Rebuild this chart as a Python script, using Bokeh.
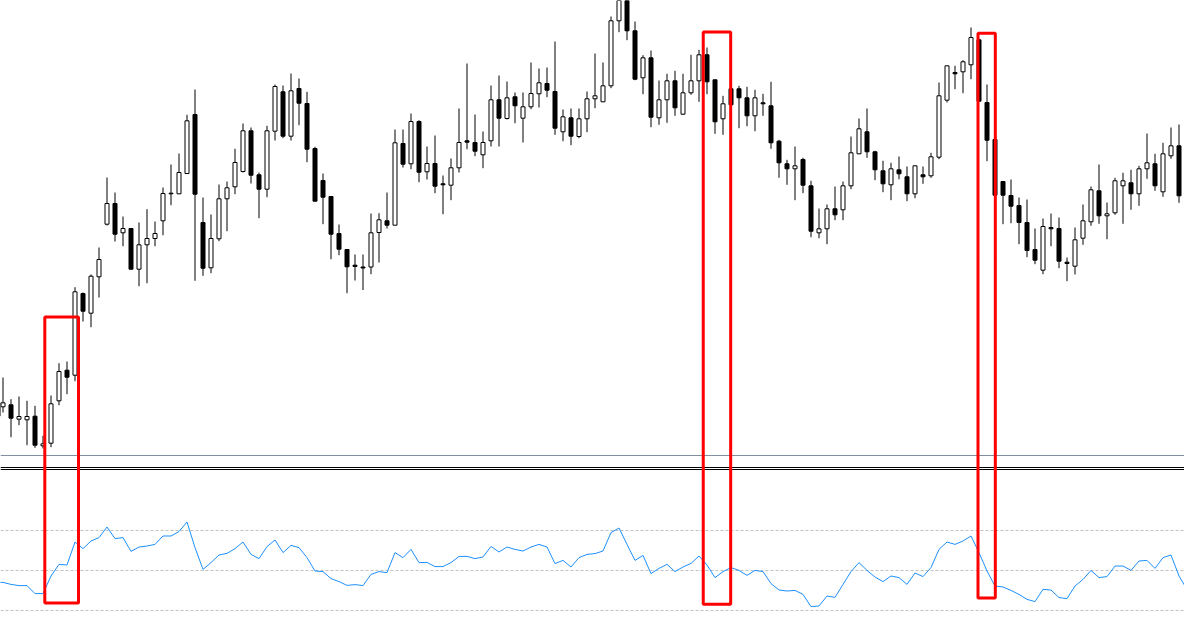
from bokeh.plotting import figure
from bokeh.models import Range1d, ColumnDataSource
from bokeh.embed import file_html
from bokeh.resources import INLINE

# ---- price data (one bar per period) ----
opens = [76.7, 85.7, 87.7, 73.3, 72.7, 76.3, 46.7, 49.3, 91.7, 122.3,
         117.3, 199, 179.3, 215.7, 268.3, 289, 259.7, 264, 223.3, 247.7,
         254, 271.7, 298.7, 298.7, 319, 378, 270, 224.7, 253.7, 293.7,
         305.7, 321, 361.7, 317.7, 303.3, 361.3, 400.7, 356.3, 404, 389,
         344, 312, 296, 259, 243, 227.3, 225.5, 225.5, 260, 271.7,
         267.3, 349, 328.7, 371, 320.7, 329, 308.7, 307.3, 324.7, 351.7,
         350, 337.7, 351.7, 392.7, 374, 395.7, 374.3, 385.7, 398.7, 409,
         401, 360.7, 374.7, 356, 373.7, 393.7, 390.7, 406.7, 471.7, 492,
         461.7, 414.7, 434.7, 374.7, 392.7, 411.7, 378.3, 399.7, 411.7, 437.7,
         412.7, 373.7, 403.7, 403.7, 394.7, 376.7, 389.7, 386.7, 351.3, 328.7,
         323.7, 333, 306.7, 259.7, 263.7, 283.7, 282.7, 306.7, 338.7, 360.7,
         340.7, 321.7, 307.7, 322.7, 315.7, 298.7, 317.7, 316.7, 335.3, 392.3,
         420, 420.7, 427.7, 452.7, 390, 353, 311, 297, 287, 270,
         243, 222.3, 265, 264, 230.3, 226.3, 254.3, 270.7, 301.7, 276.7,
         279.7, 306.7, 309.7, 298.7, 323.7, 328.7, 300.7, 336.7, 346.7, 295.7]
highs = [101, 115, 93.3, 96, 91.7, 86.7, 56.7, 97, 129.3, 131,
         205.3, 200, 218, 245, 315, 300, 276, 264.5, 270, 283.3,
         271, 305, 328, 339, 377.7, 403, 295, 278, 308, 311,
         343.7, 369, 365, 320, 366.7, 408, 407, 419, 414, 400.7,
         345.7, 319, 296, 268, 243, 238, 238, 279, 279.3, 300,
         363, 363, 379, 372.3, 346, 357, 317, 334, 384, 429,
         378, 361, 407, 417, 411, 400, 400, 430, 424, 425,
         451, 383, 384, 384, 401, 439, 430, 476, 502, 502,
         471, 437.3, 442, 412, 418.7, 421.7, 418.7, 437.7, 442.7, 445,
         412.7, 396.7, 403.7, 406.7, 405.7, 402.7, 398.7, 410.7, 352.7, 332.7,
         346, 334.7, 311.7, 284, 288, 306, 311, 356, 374, 384,
         341.7, 331.7, 329.7, 336, 326, 326.7, 326, 339.7, 410, 426.7,
         426.7, 432.3, 465, 454, 408, 353, 311, 313, 295, 293,
         264, 274, 279, 275, 235, 265, 288, 306, 328, 290,
         314.7, 319.7, 322.7, 326.7, 359, 338.7, 349.7, 365, 368, 299.7]
lows = [73.3, 80, 55.3, 67.3, 47.3, 44.7, 44, 45.3, 87.3, 98.3,
        111.3, 171, 165.3, 195, 267, 251, 246.3, 223, 206.3, 209.3,
        246.3, 257.3, 287.3, 298.7, 319, 211.7, 216.7, 219.3, 251.3, 261.3,
        298.3, 320, 309, 274.3, 295.3, 352, 354.3, 352, 367.3, 330.3,
        291.3, 268.3, 233.3, 237.3, 199.3, 212, 202.5, 218.3, 230, 264,
        267.3, 325, 323.3, 310.3, 313, 299.3, 278.3, 292.3, 320, 343.3,
        336.3, 324.3, 346, 346, 373, 369.3, 350, 383.3, 385, 395.3,
        357.7, 351.3, 347.3, 354.3, 360.3, 384.3, 390.7, 404.3, 460.3, 452.3,
        412.3, 398.3, 365.3, 367.7, 369.7, 376.7, 377.7, 397.7, 390.7, 398.3,
        358.7, 357.7, 387.7, 364.3, 366.3, 361.3, 376.7, 343.7, 314.7, 307.7,
        292.3, 299.3, 255.3, 254.3, 248.3, 272.3, 272.3, 303.3, 338.7, 334.7,
        312.3, 300.3, 292.3, 313.3, 291.3, 294.3, 308.7, 314.7, 333.3, 390,
        403.3, 399.3, 413.3, 391, 331.3, 297, 268.3, 269.3, 248.3, 235.3,
        228.3, 218.3, 246.3, 224.3, 211.3, 218, 247.7, 266.7, 268.7, 253.3,
        277.7, 268.7, 282.7, 286.7, 313.7, 301.7, 295.7, 333.7, 289.7, 233.7]
closes = [89.3, 89.7, 74.3, 76, 76, 47.3, 48.7, 88.7, 121, 115.3,
          200.7, 181.3, 216.3, 233, 289, 258.3, 264, 223.3, 247.7, 254,
          259, 299, 299.3, 320, 371.7, 298.3, 224.3, 254, 293.7, 304.7,
          330, 361.7, 317.3, 303.3, 361.7, 406, 356.3, 401.7, 389.3, 343.3,
          291.3, 295.3, 258.3, 243.3, 225.7, 226, 224.5, 259.7, 272.7, 267.3,
          349.7, 328.3, 371, 320.3, 329, 306.3, 307.7, 324.7, 350, 350.3,
          341.3, 350, 392.7, 374.3, 394.7, 386.7, 385.7, 399, 409.7, 402.3,
          364.3, 375.7, 356.3, 373.7, 393.7, 396.7, 406.7, 471.7, 492, 461.7,
          413.3, 434.7, 375.3, 392.7, 411.7, 384.7, 399.7, 411.7, 437.7, 410.7,
          370.7, 388.7, 387.7, 394.7, 376.7, 394.7, 388.7, 349.7, 329.7, 323.7,
          326.7, 307.3, 261.3, 263.7, 283.7, 277.7, 306.7, 339.7, 363.7, 340.7,
          322.7, 308.7, 323.7, 318.7, 298.7, 326.7, 315.7, 335.7, 396.7, 426.7,
          418.7, 430.7, 455, 391.3, 352.3, 297.3, 297.3, 286.3, 270, 242,
          232.3, 266, 263.7, 231.3, 229, 252.7, 271.7, 302.7, 276.7, 278.7,
          311.7, 311.7, 298.7, 323.7, 329.7, 306.7, 338.7, 346.7, 296.7, 249.7]

# ---- oscillator (levels 30 / 50 / 70) ----
osc = [43.8, 43.8, 42.8, 42.2, 42.2, 38.2, 38.2, 47.0, 52.8, 52.5,
       64.0, 60.7, 64.5, 66.2, 71.5, 65.7, 66.2, 59.3, 61.5, 62.0,
       62.8, 67.0, 67.0, 69.2, 74.0, 61.2, 50.3, 53.7, 57.5, 58.3,
       60.7, 64.0, 57.8, 55.7, 61.7, 65.0, 58.7, 62.3, 61.2, 56.2,
       49.5, 49.2, 45.7, 44.2, 42.3, 42.7, 42.2, 47.8, 49.2, 48.7,
       58.7, 56.2, 60.3, 53.7, 53.8, 51.7, 51.7, 53.7, 56.8, 56.8,
       55.7, 56.5, 61.8, 59.0, 61.5, 60.3, 59.5, 61.5, 62.8, 61.5,
       53.2, 54.8, 51.5, 56.2, 57.8, 58.2, 59.5, 68.7, 71.0, 62.8,
       54.8, 57.3, 48.2, 50.8, 52.8, 49.2, 51.5, 53.3, 57.0, 52.5,
       46.2, 49.2, 51.2, 49.8, 47.3, 49.8, 49.2, 43.2, 40.0, 39.5,
       39.8, 37.8, 31.7, 32.0, 37.0, 36.3, 42.8, 49.2, 53.7, 49.8,
       46.5, 44.2, 47.0, 46.2, 42.8, 48.5, 46.7, 51.2, 60.3, 64.0,
       62.8, 64.5, 67.0, 58.7, 49.5, 42.0, 41.5, 39.8, 37.8, 35.3,
       34.2, 40.3, 40.0, 36.2, 35.7, 42.0, 45.3, 49.8, 46.2, 46.7,
       52.0, 52.0, 49.8, 54.5, 54.8, 50.8, 56.2, 57.5, 47.0, 40.3]
osc_levels = [70, 50, 30]

# ---- highlighted zones (bar index span, price top, lower bound) ----
zone_left = [6.225, 88.53, 122.875]
zone_right = [10.44, 91.96, 125.04]
zone_top = [175.5, 460.5, 459.3]
zone_bottom = [-110.5, -111.8, -105.5]

# ---- window separators (price-scale positions) ----
main_bottom_line = [37.5]
sub_top_lines = [25.5, 23.5]

n = len(closes)
xs = list(range(n))
body_top = [max(o, c) for o, c in zip(opens, closes)]
body_bot = [min(o, c) for o, c in zip(opens, closes)]
fills = ["black" if c < o else "white" for o, c in zip(opens, closes)]
src = ColumnDataSource(dict(x=xs, high=highs, low=lows, top=body_top,
                            bottom=body_bot, fill=fills, osc=osc))

p = figure(width=1184, height=612, output_backend="svg", toolbar_location=None,
           x_range=Range1d(0.6875, 148.6875), y_range=Range1d(-120, 492),
           x_axis_location=None, y_axis_location=None, min_border=0)
p.extra_y_ranges = {"osc": Range1d(28.75, 334.75)}
p.grid.visible = False
p.outline_line_color = None
p.background_fill_color = "white"
p.border_fill_color = "white"

p.hspan(y=main_bottom_line, line_color="#7f8fa0", line_width=1)
p.hspan(y=sub_top_lines, line_color="black", line_width=1)
p.hspan(y=osc_levels, line_color="#c0c0c0", line_width=1, line_dash="3 2",
        y_range_name="osc")

p.segment(x0="x", y0="high", x1="x", y1="low", source=src,
          line_color="black", line_width=1)
p.vbar(x="x", width=0.5, top="top", bottom="bottom", source=src,
       fill_color="fill", line_color="black", line_width=1)

p.line(x="x", y="osc", source=src, line_color="#1e90ff", line_width=1,
       y_range_name="osc")

p.quad(left=zone_left, right=zone_right, top=zone_top, bottom=zone_bottom,
       fill_color=None, line_color="#ff0000", line_width=3)

open("out.html", "w").write(file_html(p, INLINE))
